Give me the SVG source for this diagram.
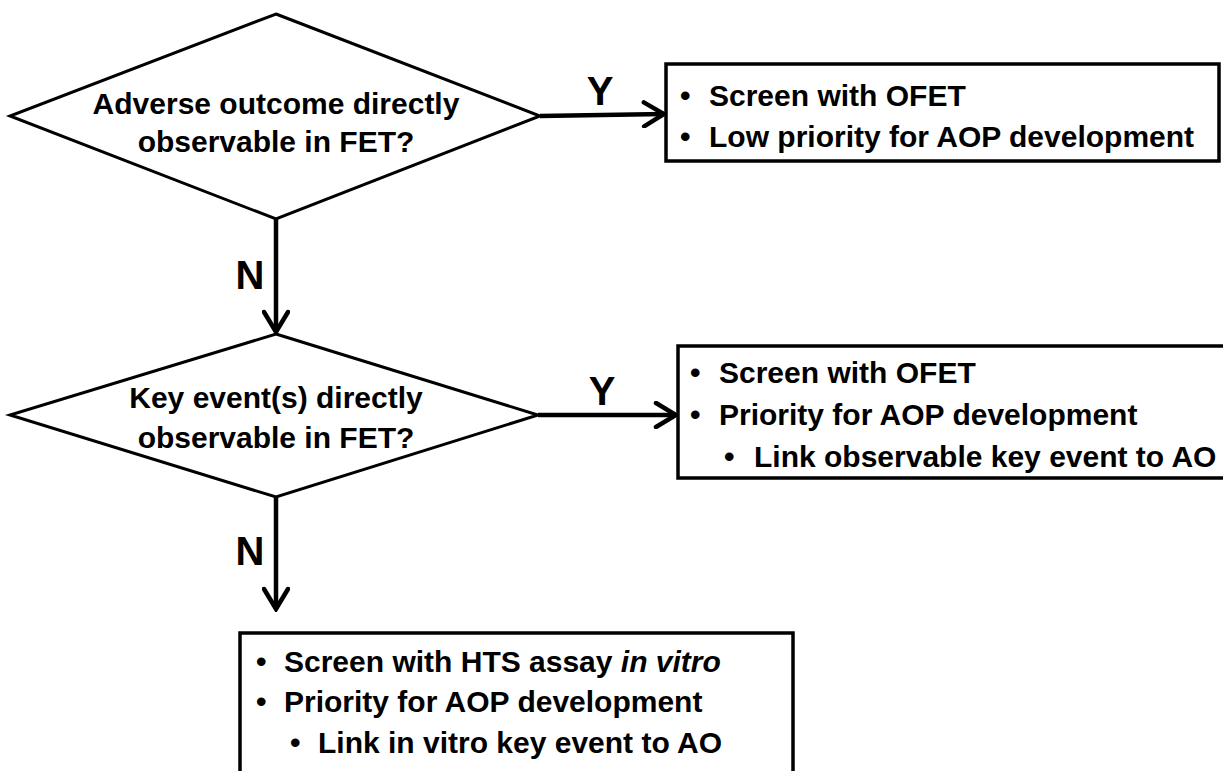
<svg xmlns="http://www.w3.org/2000/svg" width="1223" height="771" viewBox="0 0 1223 771">
<style>
.shape{fill:#fff;stroke:#000;stroke-width:3}
.box{fill:#fff;stroke:#000;stroke-width:3.5}
.t{font-family:"Liberation Sans",Arial,sans-serif;font-weight:bold;font-size:30px;fill:#000}
.c{text-anchor:middle}
.lbl{font-family:"Liberation Sans",Arial,sans-serif;font-weight:bold;font-size:40px;fill:#000;text-anchor:middle}
.con{stroke:#000;stroke-width:4.5;fill:none}
</style>
<defs>
<marker id="arr" viewBox="0 0 26 28" refX="23" refY="14" markerWidth="26" markerHeight="28" markerUnits="userSpaceOnUse" orient="auto">
<path d="M3,2 L23,14 L3,26" fill="none" stroke="#000" stroke-width="4.5" stroke-linecap="round" stroke-linejoin="miter"/>
</marker>
</defs>
<rect width="1223" height="771" fill="#fff"/>
<g id="connectors">
<line class="con" x1="540" y1="116" x2="664" y2="114" marker-end="url(#arr)"/>
<line class="con" x1="276" y1="218" x2="276" y2="332" marker-end="url(#arr)"/>
<line class="con" x1="538" y1="415" x2="676" y2="415" marker-end="url(#arr)"/>
<line class="con" x1="276" y1="497" x2="276" y2="609" marker-end="url(#arr)"/>
<text class="lbl" x="600" y="105">Y</text>
<text class="lbl" x="250" y="289">N</text>
<text class="lbl" x="602" y="405">Y</text>
<text class="lbl" x="250" y="565">N</text>
</g>
<g id="decision1">
<polygon class="shape" points="276,14 540,116 276,219 10,116"/>
<text class="t c" x="276" y="114">Adverse outcome directly</text>
<text class="t c" x="276" y="152">observable in FET?</text>
</g>
<g id="box1">
<rect class="box" x="666" y="64" width="553" height="97"/>
<text class="t" x="680" y="106">•</text>
<text class="t" x="709" y="106">Screen with OFET</text>
<text class="t" x="680" y="147">•</text>
<text class="t" x="709" y="147">Low priority for AOP development</text>
</g>
<g id="decision2">
<polygon class="shape" points="276,334 538,415 276,497 10,415"/>
<text class="t c" x="276" y="408">Key event(s) directly</text>
<text class="t c" x="276" y="448">observable in FET?</text>
</g>
<g id="box2">
<rect class="box" x="678" y="346" width="550" height="132"/>
<text class="t" x="690" y="383">•</text>
<text class="t" x="719" y="383">Screen with OFET</text>
<text class="t" x="690" y="425">•</text>
<text class="t" x="719" y="425">Priority for AOP development</text>
<text class="t" x="724" y="467">•</text>
<text class="t" x="754" y="467">Link observable key event to AO</text>
</g>
<g id="box3">
<rect class="box" x="240" y="633" width="553" height="150"/>
<text class="t" x="256" y="672">•</text>
<text class="t" x="284" y="672">Screen with HTS assay <tspan font-style="italic">in vitro</tspan></text>
<text class="t" x="256" y="712">•</text>
<text class="t" x="284" y="712">Priority for AOP development</text>
<text class="t" x="290" y="753">•</text>
<text class="t" x="318" y="753">Link in vitro key event to AO</text>
</g>
</svg>
